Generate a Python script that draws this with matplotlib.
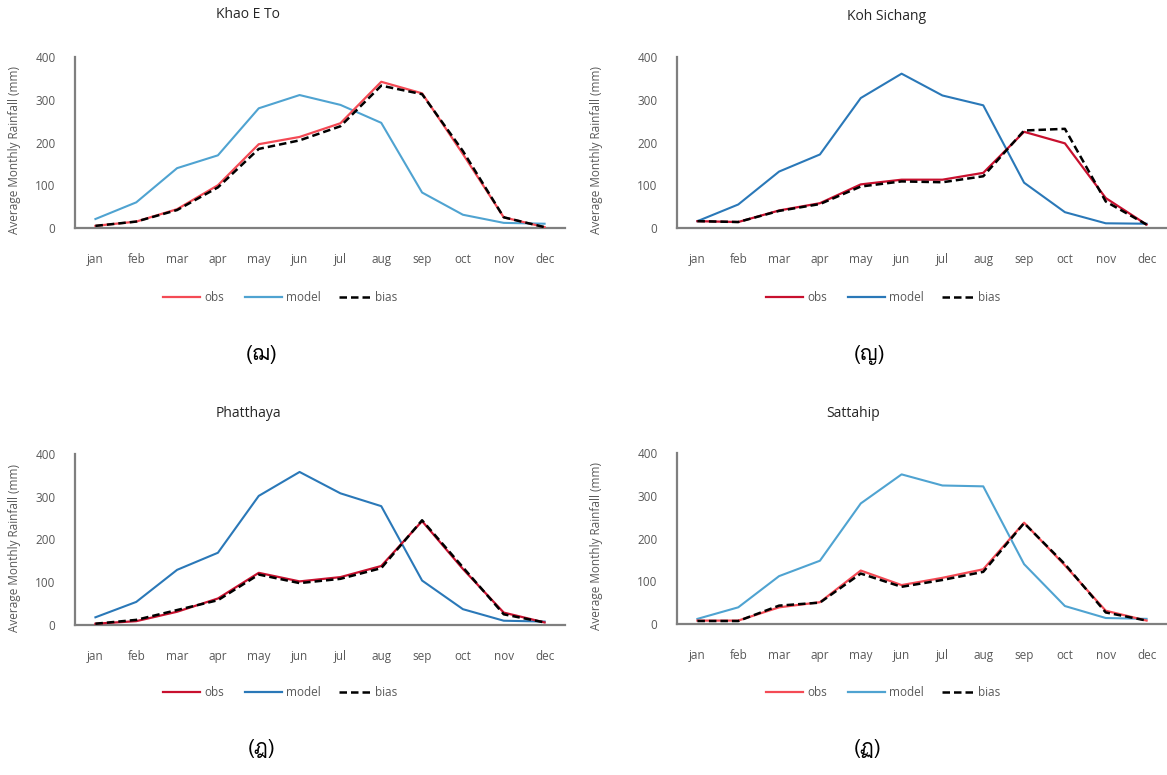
import matplotlib
matplotlib.use("Agg")
import matplotlib.pyplot as plt
from matplotlib import font_manager as fm
from matplotlib.ft2font import FT2Font
from matplotlib.lines import Line2D

months = ["jan", "feb", "mar", "apr", "may", "jun", "jul", "aug", "sep", "oct", "nov", "dec"]
yticks = [0, 100, 200, 300, 400]

titles = ["Khao E To", "Koh Sichang", "Phatthaya", "Sattahip"]
sublabels = ["(ฌ)", "(ญ)", "(ฎ)", "(ฏ)"]

khao_obs = [5, 15, 44, 100, 196, 213, 245, 342, 315, 173, 25, 2]
khao_model = [21, 60, 140, 170, 280, 311, 288, 246, 83, 31, 12, 10]
khao_bias = [5, 15, 42, 95, 185, 205, 238, 333, 313, 180, 25, 2]

koh_obs = [16, 14, 41, 58, 102, 113, 113, 129, 225, 198, 70, 8]
koh_model = [16, 55, 132, 172, 304, 361, 310, 287, 106, 37, 11, 10]
koh_bias = [16, 14, 40, 56, 97, 109, 107, 121, 228, 232, 62, 8]

pha_obs = [3, 9, 31, 62, 122, 102, 112, 138, 243, 131, 29, 6]
pha_model = [18, 54, 129, 169, 302, 358, 308, 278, 104, 37, 10, 8]
pha_bias = [3, 12, 35, 58, 118, 98, 108, 133, 245, 135, 25, 6]

sat_obs = [8, 8, 39, 51, 125, 91, 108, 128, 237, 137, 31, 8]
sat_model = [12, 39, 112, 148, 282, 350, 324, 322, 140, 42, 14, 12]
sat_bias = [7, 7, 43, 50, 118, 87, 103, 122, 236, 140, 27, 8]

series = [(khao_obs, khao_model, khao_bias), (koh_obs, koh_model, koh_bias),
          (pha_obs, pha_model, pha_bias), (sat_obs, sat_model, sat_bias)]

light = ("#F44A55", "#4FA3D1")
dark = ("#C8102E", "#2A78B8")
palette = [light, dark, dark, light]

# find a font with Thai glyphs
thai_font = None
for f in fm.fontManager.ttflist:
    try:
        cm = FT2Font(f.fname).get_charmap()
        if all(ord(c) in cm for c in "ฌญฎฏ()"):
            thai_font = f.name
            break
    except Exception:
        pass
thai_family = [thai_font, "DejaVu Sans"] if thai_font else ["DejaVu Sans"]

plt.rcParams["font.family"] = ["Open Sans", "DejaVu Sans"]

W, H = 1167, 775
fig = plt.figure(figsize=(W / 100, H / 100), dpi=100)

layout = [
    dict(left=75, top=57, bottom=228, title=(248, 15), ylab=15, leg_y=297, leg_x=163, sub=(262, 355)),
    dict(left=677, top=57, bottom=228, title=(887, 17), ylab=597, leg_y=297, leg_x=766, sub=(870, 355)),
    dict(left=75, top=454, bottom=625, title=(248, 413), ylab=15, leg_y=692, leg_x=163, sub=(262, 748)),
    dict(left=677, top=453, bottom=624, title=(853, 413), ylab=597, leg_y=692, leg_x=766, sub=(868, 748)),
]
axw = 490
gray = "#595959"

for i, L in enumerate(layout):
    obs, model, bias = series[i]
    c_obs, c_model = palette[i]
    ax = fig.add_axes([L["left"] / W, 1 - L["bottom"] / H, axw / W, (L["bottom"] - L["top"]) / H])
    x = list(range(len(months)))
    ax.plot(x, model, color=c_model, lw=1.5, zorder=2)
    ax.plot(x, obs, color=c_obs, lw=1.6, zorder=3)
    ax.plot(x, bias, color="black", lw=1.8, ls=(0, (3, 1.6)), zorder=4)
    ax.set_xlim(-0.5, 11.5)
    ax.set_ylim(0, 400)
    ax.set_xticks(x)
    ax.set_xticklabels(months)
    ax.set_yticks(yticks)
    ax.set_yticklabels([str(v) for v in yticks])
    for s in ("top", "right"):
        ax.spines[s].set_visible(False)
    for s in ("left", "bottom"):
        ax.spines[s].set_color("#7F7F7F")
        ax.spines[s].set_linewidth(1.6)
    ax.tick_params(axis="both", length=0, labelsize=8.5, labelcolor=gray)
    ax.tick_params(axis="x", pad=18)
    ax.tick_params(axis="y", pad=14)
    ax.patch.set_alpha(0)

    fig.text(L["title"][0] / W, 1 - L["title"][1] / H, titles[i], ha="center", va="center",
             fontsize=10, color="#262626")
    fig.text(L["ylab"] / W, 1 - ((L["top"] + L["bottom"]) / 2 + 8) / H, "Average Monthly Rainfall (mm)",
             rotation=90, ha="center", va="center", fontsize=8.5, color=gray)

    ly = 1 - L["leg_y"] / H
    lx = L["leg_x"]
    items = [("obs", c_obs, "-", 37), ("model", c_model, "-", 37), ("bias", "black", (0, (3, 1.6)), 32)]
    for name, col, ls, ln in items:
        fig.add_artist(Line2D([lx / W, (lx + ln) / W], [ly, ly], color=col, lw=1.6 if ls == "-" else 1.8, ls=ls,
                              transform=fig.transFigure))
        fig.text((lx + ln + 4) / W, ly, name, ha="left", va="center", fontsize=8.5, color=gray)
        lx = lx + ln + 4 + (len(name) * 6.2) + 22

    fig.text(L["sub"][0] / W, 1 - L["sub"][1] / H, sublabels[i], ha="center", va="center",
             fontsize=15, color="black", family=thai_family)

fig.savefig("out.png", dpi=100)
